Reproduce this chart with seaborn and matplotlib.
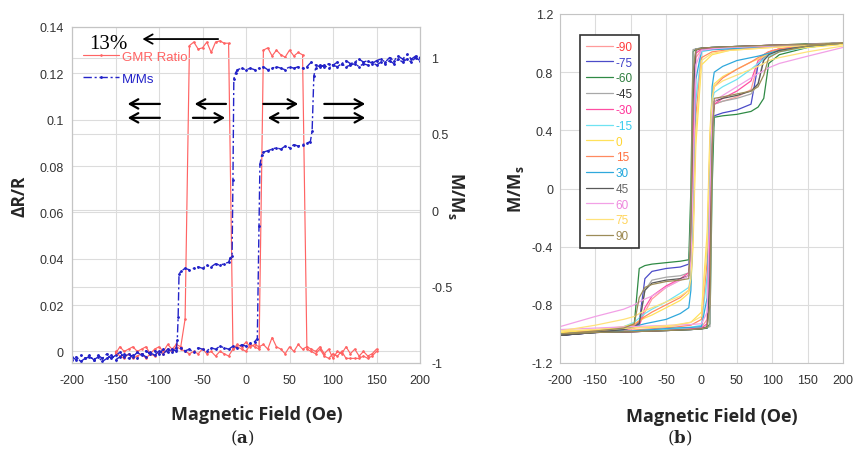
import matplotlib
matplotlib.use("Agg")
import matplotlib.pyplot as plt
import seaborn as sns

# ---------------- Panel (a) data ----------------
# GMR ratio: field swept from +150 down to -150 and back
gmr_desc_x = [150, 145, 140, 135, 130, 125, 120, 115, 110, 105,
              100, 95, 90, 85, 80, 75, 70, 65, 60, 55,
              50, 45, 40, 35, 30, 25, 20, 15, 10, 5,
              0, -5, -10, -15, -20, -25, -30, -35, -40, -45,
              -50, -55, -60, -65, -70, -75, -80, -85, -90, -95,
              -100, -105, -110, -115, -120, -125, -130, -135, -140, -145, -150]
gmr_desc_y = [0.001, -0.001, -0.002, 0.000, -0.002, 0.001, -0.001, 0.002, -0.001, 0.000,
              -0.003, 0.001, -0.001, 0.002, 0.000, 0.001, 0.002, 0.001, 0.003, 0.000,
              0.002, -0.001, 0.001, 0.002, 0.006, 0.001, 0.003, 0.002, 0.003, 0.002,
              0.004, 0.002, 0.003, 0.001, 0.133, 0.133, 0.134, 0.1335, 0.129, 0.1335,
              0.131, 0.1305, 0.1335, 0.132, 0.014, 0.002, 0.003, 0.001, 0.003, 0.000,
              0.002, 0.001, -0.001, 0.002, 0.001, 0.000, 0.002, 0.001, 0.000, 0.002, -0.001]
gmr_asc_x = [-150, -145, -140, -135, -130, -125, -120, -115, -110, -105,
             -100, -95, -90, -85, -80, -75, -70, -65, -60, -55,
             -50, -45, -40, -35, -30, -25, -20, -15, -10, -5,
             0, 5, 10, 15, 20, 25, 30, 35, 40, 45,
             50, 55, 60, 65, 70, 75, 80, 85, 90, 95,
             100, 105, 110, 115, 120, 125, 130, 135, 140, 145, 150]
gmr_asc_y = [0.000, -0.002, -0.003, -0.001, -0.003, -0.002, -0.001, -0.003, -0.001, -0.002,
             0.000, -0.001, 0.001, 0.000, 0.002, 0.001, 0.000, -0.001, 0.000, -0.001,
             0.001, -0.001, 0.000, -0.002, 0.000, -0.001, -0.002, 0.001, 0.002, 0.001,
             0.000, 0.003, 0.002, 0.001, 0.130, 0.131, 0.1275, 0.130, 0.128, 0.127,
             0.130, 0.1275, 0.129, 0.128, 0.001, 0.000, -0.001, 0.001, -0.002, -0.003,
             -0.001, -0.002, 0.000, -0.003, -0.003, -0.003, -0.003, -0.002, -0.003, -0.002, 0.000]

# M/Ms: field swept from -200 up to +200 and back
mm_asc_x = [-200, -195, -190, -185, -180, -175, -170, -165, -160, -155,
            -150, -145, -140, -135, -130, -125, -120, -115, -110, -105,
            -100, -95, -90, -85, -80, -75, -70, -65, -60, -55,
            -50, -45, -40, -35, -30, -25, -20, -15, -10, -5,
            0, 5, 10, 13, 15, 16, 18, 20, 25, 30,
            35, 40, 45, 50, 55, 60, 65, 70, 74, 76,
            78, 80, 85, 90, 95, 100, 105, 110, 115, 120,
            125, 130, 135, 140, 145, 150, 155, 160, 165, 170,
            175, 180, 185, 190, 195, 200]
mm_asc_y = [-0.96, -0.98, -0.95, -0.97, -0.96, -0.98, -0.95, -0.97, -0.94, -0.97,
            -0.95, -0.93, -0.96, -0.94, -0.96, -0.93, -0.95, -0.92, -0.94, -0.92,
            -0.94, -0.91, -0.93, -0.91, -0.92, -0.90, -0.92, -0.91, -0.93, -0.90,
            -0.91, -0.92, -0.90, -0.91, -0.89, -0.90, -0.91, -0.89, -0.90, -0.88,
            -0.89, -0.87, -0.86, -0.84, -0.10, 0.30, 0.36, 0.38, 0.39, 0.40,
            0.41, 0.40, 0.42, 0.41, 0.43, 0.42, 0.43, 0.44, 0.45, 0.52,
            0.88, 0.93, 0.95, 0.94, 0.96, 0.95, 0.97, 0.96, 0.98, 0.96,
            0.97, 0.99, 0.97, 0.98, 0.96, 0.98, 0.99, 0.97, 1.00, 0.98,
            1.01, 0.99, 1.02, 0.99, 1.01, 1.00]
mm_desc_x = [200, 195, 190, 185, 180, 175, 170, 165, 160, 155,
             150, 145, 140, 135, 130, 125, 120, 115, 110, 105,
             100, 95, 90, 85, 80, 75, 70, 65, 60, 55,
             50, 45, 40, 35, 30, 25, 20, 15, 10, 5,
             0, -5, -10, -12, -14, -15, -16, -18,
             -20, -25, -30, -35, -40, -45, -50, -55, -60, -65, -70, -75,
             -77, -78, -79,
             -80, -85, -90, -95, -100, -105, -110, -115, -120, -125,
             -130, -135, -140, -145, -150, -155, -160, -165, -170, -175,
             -180, -185, -190, -195, -200]
mm_desc_y = [0.98, 1.00, 0.97, 0.99, 0.97, 0.99, 0.96, 0.98, 0.96, 0.97,
             0.95, 0.97, 0.95, 0.96, 0.94, 0.96, 0.95, 0.94, 0.96, 0.94,
             0.95, 0.93, 0.95, 0.94, 0.95, 0.97, 0.94, 0.93, 0.94, 0.93,
             0.94, 0.92, 0.93, 0.94, 0.93, 0.92, 0.94, 0.93, 0.92, 0.93,
             0.92, 0.93, 0.92, 0.90, 0.86, 0.20, -0.30, -0.31,
             -0.34, -0.35, -0.36, -0.35, -0.37, -0.36, -0.38, -0.37, -0.38, -0.39, -0.38, -0.40,
             -0.42, -0.70, -0.85,
             -0.90, -0.93, -0.91, -0.94, -0.92, -0.95, -0.93, -0.96, -0.94, -0.97,
             -0.95, -0.97, -0.94, -0.96, -0.98, -0.95, -0.97, -0.99, -0.96, -0.98,
             -0.95, -0.97, -0.99, -0.96, -0.98]

field_ticks = [-200, -150, -100, -50, 0, 50, 100, 150, 200]
field_ticklabels = ["-200", "-150", "-100", "-50", "0", "50", "100", "150", "200"]
gmr_ticks = [0, 0.02, 0.04, 0.06, 0.08, 0.10, 0.12, 0.14]
gmr_ticklabels = ["0", "0.02", "0.04", "0.06", "0.08", "0.1", "0.12", "0.14"]
mm_ticks = [-1, -0.5, 0, 0.5, 1]
mm_ticklabels = ["-1", "-0.5", "0", "0.5", "1"]

# ---------------- Panel (b) data ----------------
angles = ["-90", "-75", "-60", "-45", "-30", "-15", "0", "15", "30", "45", "60", "75", "90"]
loop_desc_x = [200, 150, 100, 70, 40, 15, 0, -8, -12, -15, -18, -30, -50, -70, -80, -88, -95, -110, -150, -200]
loop_asc_x = [-200, -150, -100, -70, -40, -15, 0, 8, 12, 15, 18, 30, 50, 70, 80, 88, 95, 110, 150, 200]
loop_desc_y = [
    [1.0, 0.995, 0.985, 0.98, 0.975, 0.965, 0.955, 0.90, 0.20, -0.45, -0.60, -0.63, -0.68, -0.76, -0.85, -0.94, -0.96, -0.97, -0.99, -1.0],
    [1.0, 0.99, 0.985, 0.98, 0.975, 0.97, 0.965, 0.96, 0.70, -0.30, -0.52, -0.54, -0.55, -0.57, -0.62, -0.92, -0.95, -0.97, -0.99, -1.01],
    [1.0, 0.995, 0.985, 0.98, 0.975, 0.97, 0.965, 0.96, 0.94, 0.00, -0.49, -0.50, -0.51, -0.52, -0.53, -0.55, -0.93, -0.96, -0.98, -1.0],
    [1.0, 0.99, 0.985, 0.98, 0.975, 0.97, 0.965, 0.96, 0.955, -0.20, -0.58, -0.60, -0.61, -0.63, -0.70, -0.93, -0.95, -0.97, -0.99, -1.0],
    [1.0, 0.99, 0.985, 0.98, 0.97, 0.965, 0.96, 0.93, 0.30, -0.45, -0.58, -0.62, -0.67, -0.74, -0.82, -0.94, -0.96, -0.97, -0.99, -1.0],
    [1.0, 0.99, 0.98, 0.975, 0.965, 0.955, 0.94, 0.60, -0.30, -0.60, -0.68, -0.72, -0.78, -0.83, -0.86, -0.89, -0.92, -0.95, -0.98, -1.0],
    [1.0, 0.985, 0.97, 0.96, 0.95, 0.92, 0.85, 0.30, -0.40, -0.65, -0.72, -0.77, -0.82, -0.87, -0.89, -0.91, -0.93, -0.95, -0.97, -0.99],
    [1.0, 0.99, 0.975, 0.965, 0.955, 0.94, 0.90, 0.50, -0.30, -0.62, -0.70, -0.75, -0.80, -0.85, -0.88, -0.91, -0.94, -0.96, -0.98, -1.0],
    [1.0, 0.99, 0.98, 0.97, 0.96, 0.955, 0.95, 0.75, -0.20, -0.70, -0.82, -0.86, -0.90, -0.92, -0.93, -0.94, -0.95, -0.97, -0.99, -1.0],
    [1.0, 0.99, 0.985, 0.98, 0.975, 0.97, 0.965, 0.95, 0.60, -0.40, -0.60, -0.62, -0.63, -0.65, -0.70, -0.93, -0.95, -0.97, -0.99, -1.01],
    [1.0, 0.99, 0.98, 0.975, 0.97, 0.96, 0.95, 0.85, 0.00, -0.50, -0.60, -0.63, -0.68, -0.74, -0.76, -0.78, -0.80, -0.83, -0.88, -0.95],
    [1.0, 0.985, 0.97, 0.96, 0.95, 0.93, 0.88, 0.40, -0.35, -0.62, -0.70, -0.74, -0.78, -0.82, -0.84, -0.86, -0.88, -0.90, -0.94, -0.98],
    [1.0, 0.99, 0.985, 0.98, 0.975, 0.97, 0.965, 0.955, 0.80, -0.30, -0.62, -0.63, -0.64, -0.66, -0.68, -0.75, -0.93, -0.96, -0.98, -1.0],
]
loop_asc_y = [
    [-1.0, -0.99, -0.985, -0.98, -0.975, -0.965, -0.955, -0.90, -0.20, 0.45, 0.58, 0.60, 0.63, 0.68, 0.86, 0.92, 0.94, 0.96, 0.98, 1.0],
    [-1.01, -0.99, -0.985, -0.98, -0.975, -0.97, -0.965, -0.96, -0.60, 0.30, 0.50, 0.52, 0.54, 0.58, 0.85, 0.90, 0.93, 0.95, 0.98, 1.0],
    [-1.0, -0.99, -0.985, -0.98, -0.975, -0.97, -0.965, -0.96, -0.93, 0.00, 0.49, 0.50, 0.51, 0.53, 0.56, 0.62, 0.86, 0.92, 0.97, 1.0],
    [-1.0, -0.99, -0.98, -0.975, -0.97, -0.965, -0.96, -0.955, -0.95, 0.20, 0.58, 0.60, 0.62, 0.65, 0.72, 0.90, 0.93, 0.95, 0.98, 1.0],
    [-1.0, -0.99, -0.985, -0.98, -0.97, -0.965, -0.96, -0.93, -0.30, 0.45, 0.58, 0.62, 0.67, 0.74, 0.88, 0.92, 0.94, 0.96, 0.98, 1.0],
    [-1.0, -0.99, -0.98, -0.975, -0.965, -0.955, -0.94, -0.60, 0.30, 0.60, 0.66, 0.70, 0.75, 0.82, 0.86, 0.89, 0.91, 0.94, 0.97, 1.0],
    [-0.99, -0.975, -0.96, -0.955, -0.945, -0.92, -0.85, -0.30, 0.40, 0.65, 0.72, 0.77, 0.82, 0.87, 0.89, 0.91, 0.93, 0.95, 0.97, 0.99],
    [-1.0, -0.99, -0.975, -0.965, -0.955, -0.94, -0.90, -0.50, 0.30, 0.62, 0.70, 0.76, 0.82, 0.87, 0.90, 0.92, 0.94, 0.96, 0.98, 1.0],
    [-1.0, -0.99, -0.98, -0.97, -0.96, -0.955, -0.95, -0.75, 0.20, 0.70, 0.80, 0.84, 0.88, 0.90, 0.91, 0.92, 0.93, 0.95, 0.98, 1.0],
    [-1.01, -0.99, -0.985, -0.98, -0.975, -0.97, -0.965, -0.95, -0.60, 0.40, 0.60, 0.62, 0.64, 0.67, 0.72, 0.88, 0.92, 0.95, 0.98, 1.0],
    [-0.97, -0.96, -0.95, -0.945, -0.94, -0.935, -0.93, -0.85, 0.00, 0.50, 0.60, 0.64, 0.70, 0.76, 0.79, 0.81, 0.83, 0.86, 0.91, 0.97],
    [-0.98, -0.97, -0.96, -0.95, -0.94, -0.92, -0.88, -0.40, 0.35, 0.62, 0.70, 0.74, 0.78, 0.82, 0.84, 0.86, 0.88, 0.90, 0.94, 0.98],
    [-1.0, -0.99, -0.985, -0.98, -0.975, -0.97, -0.965, -0.955, -0.80, 0.30, 0.62, 0.63, 0.65, 0.67, 0.70, 0.78, 0.90, 0.94, 0.98, 1.0],
]
loop_line_colors = ["#ff9b9b", "#4b4bc8", "#2f8a45", "#a8a8a8", "#ff4fa3", "#6fe3f2", "#ffe15a",
                    "#ff8a60", "#2fa8dc", "#5a5a5a", "#f2a0e6", "#ffe27a", "#9c8c58"]
loop_text_colors = ["#ff3b3b", "#4040c8", "#2e7d3e", "#333333", "#ff3399", "#38ccee", "#ffd633",
                    "#ff7040", "#22a8dd", "#666666", "#ee88dd", "#ffd45a", "#9c8850"]
loop_ticks = [-1.2, -0.8, -0.4, 0, 0.4, 0.8, 1.2]
loop_ticklabels = ["-1.2", "-0.8", "-0.4", "0", "0.4", "0.8", "1.2"]

# arrows in (a): (tail x, head x, y)
arrows_a = [(-99, -136, 0.1068), (-99, -136, 0.1008),
            (-23, -59, 0.1068), (-61, -24, 0.1008),
            (20, 60, 0.1068), (60, 25, 0.1008),
            (90, 137, 0.1068), (90, 137, 0.1008)]
arrow_13 = (-32, -119, 0.1348)

# ---------------- styling ----------------
sns.set_style("white")
plt.rcParams["font.family"] = ["Liberation Sans", "DejaVu Sans"]
plt.rcParams["mathtext.fontset"] = "custom"
plt.rcParams["mathtext.rm"] = "DejaVu Serif"
plt.rcParams["mathtext.bf"] = "DejaVu Serif:bold"
plt.rcParams["mathtext.sf"] = "Open Sans:bold"

RED = "#ff6464"
BLUE = "#2323c8"
GRID = "#dcdcdc"
SPINE = "#c4c4c4"
TICKC = "#333333"

fig = plt.figure(figsize=(8.55, 4.52), dpi=100)
axa = fig.add_axes([72 / 855, 1 - 364 / 452, 348 / 855, 336 / 452])
axb = fig.add_axes([560 / 855, 1 - 364 / 452, 283 / 855, 349 / 452])

# ---- panel a ----
gx = gmr_desc_x + gmr_asc_x
gy = gmr_desc_y + gmr_asc_y
sns.lineplot(x=gx, y=gy, ax=axa, sort=False, estimator=None, color=RED, lw=0.85,
             marker=".", ms=2.2, mec=RED, label="GMR Ratio", legend=False, zorder=3)
axa.set_xlim(-200, 200)
axa.set_ylim(-0.005, 0.14)
axa.set_xticks(field_ticks)
axa.set_xticklabels(field_ticklabels)
axa.set_yticks(gmr_ticks)
axa.set_yticklabels(gmr_ticklabels)
axa.grid(True, color=GRID, lw=0.8)
axa.set_axisbelow(True)

axa2 = axa.twinx()
mx = mm_asc_x + mm_desc_x
my = mm_asc_y + mm_desc_y
sns.lineplot(x=mx, y=my, ax=axa2, sort=False, estimator=None, color=BLUE, lw=1.0,
             linestyle=(0, (6, 2, 1.5, 2)), marker=".", ms=2.5, mec=BLUE,
             label="M/Ms", legend=False)
axa2.set_ylim(-1, 1.2)
axa2.set_yticks(mm_ticks)
axa2.set_yticklabels(mm_ticklabels)
axa2.grid(True, axis="y", color=GRID, lw=0.8)
axa2.set_axisbelow(True)

for ax in (axa, axa2):
    for s in ax.spines.values():
        s.set_color(SPINE)
        s.set_linewidth(0.8)
    ax.tick_params(length=0, labelsize=9, colors=TICKC)
    ax.set_xlabel("")
axa.tick_params(axis="y", pad=6)
axa.tick_params(axis="x", pad=8)
axa2.tick_params(axis="y", pad=8)

axa.set_xlabel("Magnetic Field (Oe)", fontfamily="Open Sans", fontweight="bold", fontsize=13)
axa.xaxis.set_label_coords(0.53, -0.125)
axa.set_ylabel("ΔR/R", fontfamily="Open Sans", fontweight="bold", fontsize=12.5, labelpad=8)
axa2.set_ylabel(r"M/M$_\mathsf{s}$", fontfamily="Open Sans", fontweight="bold", fontsize=12.5,
                rotation=270, labelpad=10)

for tx, hx, yy in arrows_a:
    axa2.annotate("", xy=(hx, yy), xytext=(tx, yy), xycoords=axa.transData, textcoords=axa.transData,
                  arrowprops=dict(arrowstyle="->,head_length=0.5,head_width=0.28", lw=1.6,
                                  color="black", shrinkA=0, shrinkB=0, mutation_scale=12))
axa2.annotate("", xy=(arrow_13[1], arrow_13[2]), xytext=(arrow_13[0], arrow_13[2]),
              xycoords=axa.transData, textcoords=axa.transData,
              arrowprops=dict(arrowstyle="->,head_length=0.5,head_width=0.28", lw=1.3,
                              color="black", shrinkA=0, shrinkB=0, mutation_scale=12))
axa2.text(-180, 0.1330, "13%", transform=axa.transData, family="Liberation Serif",
          fontsize=15, va="center", ha="left", color="black")

handles = [axa.lines[0], axa2.lines[0]]
leg = axa2.legend(handles, ["GMR Ratio", "M/Ms"], loc="upper left", bbox_to_anchor=(0.032, 0.93),
                  frameon=False, fontsize=9.5, handlelength=2.7, handletextpad=0.25,
                  labelspacing=0.75, borderpad=0, borderaxespad=0, labelcolor="linecolor")

# ---- panel b ----
for i, ang in enumerate(angles):
    xs = loop_desc_x + loop_asc_x
    ys = loop_desc_y[i] + loop_asc_y[i]
    sns.lineplot(x=xs, y=ys, ax=axb, sort=False, estimator=None,
                 color=loop_line_colors[i], lw=0.9, label=ang, legend=False)
axb.set_xlim(-200, 200)
axb.set_ylim(-1.2, 1.2)
axb.set_xticks(field_ticks)
axb.set_xticklabels(field_ticklabels)
axb.set_yticks(loop_ticks)
axb.set_yticklabels(loop_ticklabels)
axb.grid(True, color=GRID, lw=0.8)
axb.set_axisbelow(True)
for s in axb.spines.values():
    s.set_color(SPINE)
    s.set_linewidth(0.8)
axb.tick_params(length=0, labelsize=9, colors=TICKC)
axb.tick_params(axis="x", pad=8)
axb.tick_params(axis="y", pad=5)
axb.set_xlabel("Magnetic Field (Oe)", fontfamily="Open Sans", fontweight="bold", fontsize=13)
axb.xaxis.set_label_coords(0.537, -0.125)
axb.set_ylabel(r"M/M$_\mathsf{s}$", fontfamily="Open Sans", fontweight="bold", fontsize=12.5, labelpad=4)

legb = axb.legend(loc="upper left", bbox_to_anchor=(0.07, 0.94), frameon=True, fancybox=False,
                  edgecolor="#333333", framealpha=1, fontsize=8.5, handlelength=2.3,
                  handletextpad=0.25, labelspacing=0.32, borderpad=0.5, borderaxespad=0,
                  labelcolor=loop_text_colors)
legb.get_frame().set_linewidth(1.2)

# panel captions
fig.text(242 / 855, 1 - 438 / 452, r"($\mathbf{a}$)", family="DejaVu Serif", fontsize=12,
         ha="center", va="center")
fig.text(680 / 855, 1 - 438 / 452, r"($\mathbf{b}$)", family="DejaVu Serif", fontsize=12,
         ha="center", va="center")

fig.savefig("out.png", dpi=100)
